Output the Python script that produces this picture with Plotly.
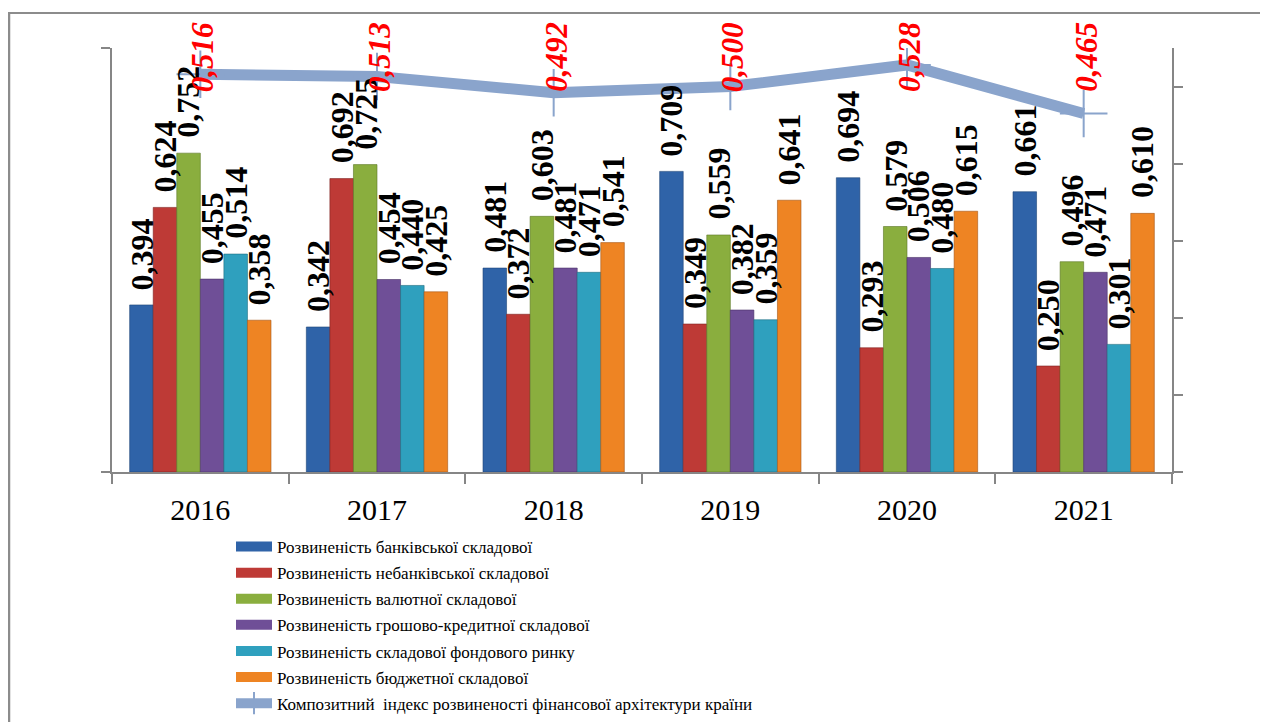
import plotly.graph_objects as go

years = ["2016", "2017", "2018", "2019", "2020", "2021"]

bank = [0.394, 0.342, 0.481, 0.709, 0.694, 0.661]
nonbank = [0.624, 0.692, 0.372, 0.349, 0.293, 0.250]
currency = [0.752, 0.725, 0.603, 0.559, 0.579, 0.496]
monetary = [0.455, 0.454, 0.481, 0.382, 0.506, 0.471]
stock = [0.514, 0.440, 0.471, 0.359, 0.480, 0.301]
budget = [0.358, 0.425, 0.541, 0.641, 0.615, 0.610]
composite = [0.516, 0.513, 0.492, 0.500, 0.528, 0.465]

series_names = [
    "Розвиненість банківської складової",
    "Розвиненість небанківської складової",
    "Розвиненість валютної складової",
    "Розвиненість грошово-кредитної складової",
    "Розвиненість складової фондового ринку",
    "Розвиненість бюджетної складової",
]
composite_name = "Композитний  індекс розвиненості фінансової архітектури країни"

series_values = [bank, nonbank, currency, monetary, stock, budget]
colors = ["#2F63A8", "#BE3A36", "#8AAE3E", "#6F4F97", "#2FA0BE", "#EE8423"]
edge_colors = ["#1F4477", "#7E2421", "#5C7727", "#4A3266", "#1E6B80", "#A5581A"]
line_color = "#8AA4CC"

FONT = "Liberation Serif"

# page body has an 8px margin; the figure is sized to fill the rest of the window
OFF = 8
W, H = 1268 - OFF, 722 - OFF
ML, MT = 112 - OFF, 48 - OFF
plot_w, plot_h = 1060, 424
MR = W - ML - plot_w
MB = H - MT - plot_h
cat_w = plot_w / len(years)
bargap = 0.2
bar_w = cat_w * (1 - bargap) / len(series_values)


def fmt(v):
    return f"{v:.3f}".replace(".", ",")


def px_x(p):
    # screen pixel -> paper x
    return (p - OFF - ML) / plot_w


def px_y(p):
    # screen pixel -> paper y
    return (MT + plot_h - (p - OFF)) / plot_h


fig = go.Figure()

for j, (name, vals) in enumerate(zip(series_names, series_values)):
    fig.add_trace(go.Bar(
        x=years, y=vals, name=name, showlegend=False,
        marker=dict(color=colors[j], line=dict(color=edge_colors[j], width=0.6)),
    ))

# legend entries styled as wide bars (no data drawn)
for j, name in enumerate(series_names):
    fig.add_trace(go.Scatter(
        x=[None], y=[None], mode="lines", name=name, legendgroup=f"g{j}",
        line=dict(color=colors[j], width=12), hoverinfo="skip",
    ))

fig.add_trace(go.Scatter(
    x=years, y=composite, name=composite_name, yaxis="y2", mode="lines+markers",
    legendgroup="g6",
    line=dict(color=line_color, width=11),
    marker=dict(symbol="cross-thin", size=34, line=dict(color=line_color, width=2), color=line_color),
))

annotations = []
for j, vals in enumerate(series_values):
    for i, v in enumerate(vals):
        annotations.append(dict(
            x=i, y=v, xref="x", yref="y", text=f"<b>{fmt(v)}</b>",
            textangle=-90, showarrow=False, xanchor="center", yanchor="bottom",
            xshift=(j - 2.5) * bar_w, yshift=13,
            font=dict(family=FONT, size=32, color="black"),
        ))

for i, v in enumerate(composite):
    annotations.append(dict(
        x=i, y=px_y(57),
        xref="x", yref="paper", text=f"<b><i>{fmt(v)}</i></b>",
        textangle=-90, showarrow=False, xanchor="center", yanchor="middle",
        xshift=2,
        font=dict(family=FONT, size=31, color="#FF0000"),
    ))

shapes = [
    dict(type="line", xref="paper", yref="paper", x0=px_x(8), x1=px_x(1268), y0=px_y(13), y1=px_y(13),
         line=dict(color="#8C8C8C", width=2)),
    dict(type="line", xref="paper", yref="paper", x0=px_x(9), x1=px_x(9), y0=px_y(13), y1=px_y(722),
         line=dict(color="#8C8C8C", width=2.5)),
]

axis_line = "#868686"

fig.update_layout(
    width=W, height=H,
    margin=dict(l=ML, r=MR, t=MT, b=MB, autoexpand=False),
    paper_bgcolor="white", plot_bgcolor="white",
    barmode="group", bargap=bargap, bargroupgap=0,
    font=dict(family=FONT, color="black"),
    xaxis=dict(
        type="category", range=[-0.5, len(years) - 0.5], autorange=False,
        showline=True, linecolor=axis_line, linewidth=1.5,
        ticks="outside", tickson="boundaries", ticklen=10, tickcolor=axis_line, tickwidth=1.5,
        tickfont=dict(family=FONT, size=30, color="black"), ticklabelstandoff=10,
        tickangle=0, showgrid=False, zeroline=False, automargin=False,
    ),
    yaxis=dict(
        range=[0, 1], autorange=False, tickvals=[0, 1], showticklabels=False, showline=True,
        linecolor=axis_line, linewidth=1.5, ticks="outside", ticklen=9,
        tickcolor=axis_line, tickwidth=1.5, showgrid=False, zeroline=False, automargin=False,
    ),
    yaxis2=dict(
        range=[0, 0.55], autorange=False, dtick=0.1, tick0=0, overlaying="y", side="right",
        showticklabels=False, showline=True, linecolor=axis_line, linewidth=1.5,
        ticks="outside", ticklen=9, tickcolor=axis_line, tickwidth=1.5,
        showgrid=False, zeroline=False, automargin=False,
    ),
    legend=dict(
        x=px_x(231), y=px_y(529), xanchor="left", yanchor="top",
        orientation="v", traceorder="grouped", tracegroupgap=1,
        font=dict(family=FONT, size=17, color="black"),
        itemwidth=36, bgcolor="rgba(0,0,0,0)",
    ),
    annotations=annotations,
    shapes=shapes,
)

fig.write_html("out.html")
